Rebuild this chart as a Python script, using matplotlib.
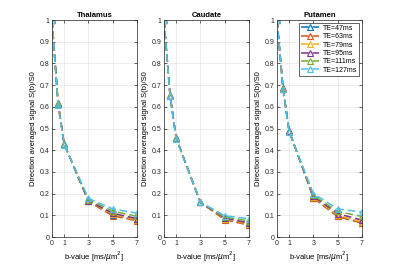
import matplotlib
matplotlib.use("Agg")
import matplotlib.pyplot as plt

# b-values and echo times
b_values = [0, 0.5, 1, 3, 5, 7]
te_labels = ["TE=47ms", "TE=63ms", "TE=79ms", "TE=95ms", "TE=111ms", "TE=127ms"]
regions = ["Thalamus", "Caudate", "Putamen"]

# direction averaged signal, one list per TE
thalamus = [
    [1, 0.620, 0.430, 0.165, 0.100, 0.080],
    [1, 0.620, 0.430, 0.165, 0.098, 0.075],
    [1, 0.618, 0.430, 0.168, 0.105, 0.080],
    [1, 0.615, 0.428, 0.168, 0.110, 0.085],
    [1, 0.612, 0.428, 0.172, 0.120, 0.095],
    [1, 0.610, 0.426, 0.178, 0.130, 0.110],
]
caudate = [
    [1, 0.655, 0.458, 0.160, 0.082, 0.058],
    [1, 0.655, 0.458, 0.160, 0.080, 0.055],
    [1, 0.653, 0.457, 0.160, 0.085, 0.060],
    [1, 0.652, 0.456, 0.160, 0.088, 0.065],
    [1, 0.650, 0.455, 0.160, 0.092, 0.075],
    [1, 0.648, 0.453, 0.161, 0.098, 0.085],
]
putamen = [
    [1, 0.685, 0.490, 0.180, 0.095, 0.065],
    [1, 0.685, 0.490, 0.180, 0.095, 0.065],
    [1, 0.684, 0.488, 0.185, 0.100, 0.070],
    [1, 0.683, 0.487, 0.188, 0.108, 0.078],
    [1, 0.682, 0.486, 0.192, 0.118, 0.095],
    [1, 0.680, 0.484, 0.200, 0.130, 0.115],
]
all_data = [thalamus, caudate, putamen]

colors = ["#0072BD", "#D95319", "#EDB120", "#7E2F8E", "#77AC30", "#4DBEEE"]

plt.rcParams["font.family"] = ["Liberation Sans", "DejaVu Sans"]

fig = plt.figure(figsize=(4, 2.67), dpi=100)
lefts = [0.13, 0.41, 0.6925]

for i, region in enumerate(regions):
    ax = fig.add_axes([lefts[i], 0.112, 0.2125, 0.813])
    for j, series in enumerate(all_data[i]):
        ax.plot(b_values, series, linestyle=(0, (5, 2.5)), color=colors[j],
                linewidth=1.1, marker="^", markersize=4,
                markerfacecolor="none", markeredgewidth=0.8,
                label=te_labels[j])
    ax.set_xlim(0, 7)
    ax.set_ylim(0, 1)
    ax.set_xticks([0, 1, 3, 5, 7])
    ax.set_yticks([k / 10 for k in range(11)])
    ax.set_yticklabels(["0"] + ["0.%d" % k for k in range(1, 10)] + ["1"])
    ax.grid(True, color="#e6e6e6", linewidth=0.5)
    ax.set_axisbelow(True)
    ax.tick_params(direction="in", length=2, width=0.5, labelsize=5,
                   top=True, right=True, pad=2, colors="#262626")
    for s in ax.spines.values():
        s.set_linewidth(0.5)
        s.set_color("#262626")
    ax.set_title(region, fontsize=5.5, fontweight="bold", pad=2)
    ax.set_xlabel(r"b-value [ms/$\mu$m$^2$]", fontsize=5.5, labelpad=2)
    ax.set_ylabel("Direction averaged signal S(b)/S0", fontsize=5.5, labelpad=2)
    if i == 2:
        leg = ax.legend(loc="upper right", fontsize=5, handlelength=2.6,
                        borderpad=0.3, labelspacing=0.2, handletextpad=0.5,
                        fancybox=False, edgecolor="#262626", framealpha=1,
                        borderaxespad=0.4)
        leg.get_frame().set_linewidth(0.5)

fig.savefig("out.png", dpi=100)
